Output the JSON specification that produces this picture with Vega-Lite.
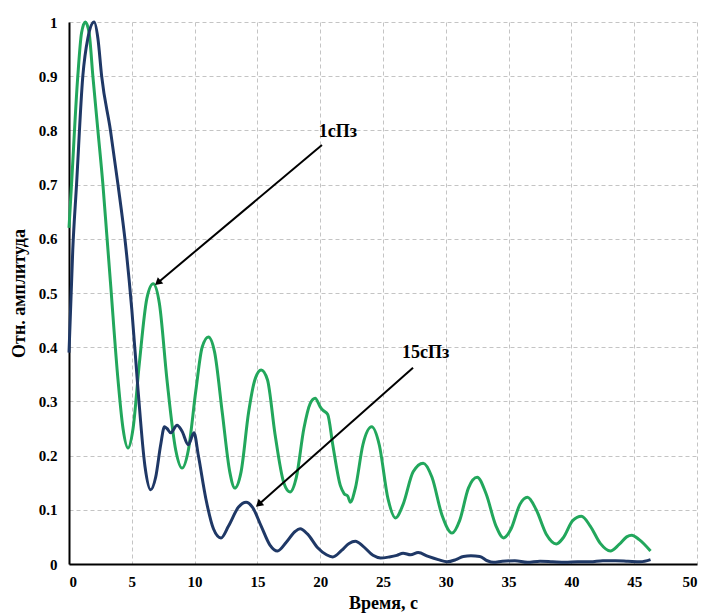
{
  "$schema": "https://vega.github.io/schema/vega-lite/v6.json",
  "width": 628,
  "height": 542,
  "autosize": {"type": "none"},
  "padding": {"left": 69, "top": 22, "right": 7, "bottom": 51},
  "background": "white",
  "config": {
    "view": {"stroke": null},
    "font": "Liberation Serif",
    "axis": {
      "grid": true,
      "gridColor": "#c4c4c4",
      "gridDash": [4, 3],
      "gridWidth": 1,
      "domainColor": "#000000",
      "domainWidth": 2,
      "ticks": false,
      "labelFont": "Liberation Serif",
      "labelFontWeight": "bold",
      "labelFontSize": 15,
      "labelColor": "#000000",
      "titleFont": "Liberation Serif",
      "titleFontWeight": "bold",
      "titleFontSize": 18,
      "titleColor": "#000000"
    }
  },
  "datasets": {
    "curves": [
      {"series": "1сПз", "t": 0, "v": 0.62},
      {"series": "1сПз", "t": 0.2, "v": 0.7},
      {"series": "1сПз", "t": 0.7, "v": 0.9},
      {"series": "1сПз", "t": 1.0, "v": 0.98},
      {"series": "1сПз", "t": 1.3, "v": 1.0},
      {"series": "1сПз", "t": 1.6, "v": 0.98},
      {"series": "1сПз", "t": 1.9, "v": 0.9},
      {"series": "1сПз", "t": 2.3, "v": 0.8},
      {"series": "1сПз", "t": 2.7, "v": 0.7},
      {"series": "1сПз", "t": 3.0, "v": 0.61},
      {"series": "1сПз", "t": 3.3, "v": 0.52},
      {"series": "1сПз", "t": 3.9, "v": 0.34},
      {"series": "1сПз", "t": 4.3, "v": 0.25},
      {"series": "1сПз", "t": 4.7, "v": 0.214},
      {"series": "1сПз", "t": 5.1, "v": 0.25},
      {"series": "1сПз", "t": 5.6, "v": 0.37},
      {"series": "1сПз", "t": 6.2, "v": 0.49},
      {"series": "1сПз", "t": 6.7, "v": 0.517},
      {"series": "1сПз", "t": 7.2, "v": 0.48},
      {"series": "1сПз", "t": 7.8, "v": 0.34},
      {"series": "1сПз", "t": 8.5, "v": 0.21},
      {"series": "1сПз", "t": 9.0, "v": 0.177},
      {"series": "1сПз", "t": 9.5, "v": 0.21},
      {"series": "1сПз", "t": 10.1, "v": 0.32},
      {"series": "1сПз", "t": 10.6, "v": 0.4},
      {"series": "1сПз", "t": 11.1, "v": 0.419},
      {"series": "1сПз", "t": 11.6, "v": 0.39},
      {"series": "1сПз", "t": 12.2, "v": 0.28},
      {"series": "1сПз", "t": 12.8, "v": 0.17},
      {"series": "1сПз", "t": 13.2, "v": 0.14},
      {"series": "1сПз", "t": 13.7, "v": 0.17},
      {"series": "1сПз", "t": 14.3, "v": 0.28},
      {"series": "1сПз", "t": 14.8, "v": 0.34},
      {"series": "1сПз", "t": 15.3, "v": 0.358},
      {"series": "1сПз", "t": 15.8, "v": 0.34},
      {"series": "1сПз", "t": 16.4, "v": 0.24},
      {"series": "1сПз", "t": 17.1, "v": 0.15},
      {"series": "1сПз", "t": 17.6, "v": 0.133},
      {"series": "1сПз", "t": 18.1, "v": 0.16},
      {"series": "1сПз", "t": 18.7, "v": 0.25},
      {"series": "1сПз", "t": 19.2, "v": 0.296},
      {"series": "1сПз", "t": 19.6, "v": 0.306},
      {"series": "1сПз", "t": 20.0, "v": 0.29},
      {"series": "1сПз", "t": 20.2, "v": 0.284},
      {"series": "1сПз", "t": 20.6, "v": 0.276},
      {"series": "1сПз", "t": 21.0, "v": 0.22},
      {"series": "1сПз", "t": 21.6, "v": 0.145},
      {"series": "1сПз", "t": 21.9, "v": 0.13},
      {"series": "1сПз", "t": 22.2, "v": 0.125},
      {"series": "1сПз", "t": 22.4, "v": 0.114},
      {"series": "1сПз", "t": 22.8, "v": 0.14},
      {"series": "1сПз", "t": 23.4, "v": 0.22},
      {"series": "1сПз", "t": 24.1, "v": 0.253},
      {"series": "1сПз", "t": 24.7, "v": 0.22},
      {"series": "1сПз", "t": 25.4, "v": 0.12},
      {"series": "1сПз", "t": 26.0, "v": 0.085},
      {"series": "1сПз", "t": 26.6, "v": 0.11},
      {"series": "1сПз", "t": 27.4, "v": 0.17},
      {"series": "1сПз", "t": 28.2, "v": 0.186},
      {"series": "1сПз", "t": 28.9, "v": 0.16},
      {"series": "1сПз", "t": 29.7, "v": 0.09},
      {"series": "1сПз", "t": 30.5, "v": 0.057},
      {"series": "1сПз", "t": 31.1, "v": 0.08},
      {"series": "1сПз", "t": 31.8, "v": 0.14},
      {"series": "1сПз", "t": 32.5, "v": 0.16},
      {"series": "1сПз", "t": 33.2, "v": 0.13},
      {"series": "1сПз", "t": 34.0, "v": 0.07},
      {"series": "1сПз", "t": 34.6, "v": 0.048},
      {"series": "1сПз", "t": 35.2, "v": 0.065},
      {"series": "1сПз", "t": 35.9, "v": 0.11},
      {"series": "1сПз", "t": 36.5, "v": 0.123},
      {"series": "1сПз", "t": 37.2, "v": 0.1},
      {"series": "1сПз", "t": 38.0, "v": 0.055},
      {"series": "1сПз", "t": 38.8, "v": 0.037},
      {"series": "1сПз", "t": 39.4, "v": 0.05},
      {"series": "1сПз", "t": 40.1, "v": 0.08},
      {"series": "1сПз", "t": 40.8, "v": 0.088},
      {"series": "1сПз", "t": 41.5, "v": 0.07},
      {"series": "1сПз", "t": 42.3, "v": 0.038},
      {"series": "1сПз", "t": 43.1, "v": 0.024},
      {"series": "1сПз", "t": 43.8, "v": 0.036},
      {"series": "1сПз", "t": 44.4, "v": 0.05},
      {"series": "1сПз", "t": 44.8, "v": 0.053},
      {"series": "1сПз", "t": 45.4, "v": 0.045},
      {"series": "1сПз", "t": 46.3, "v": 0.024},
      {"series": "15сПз", "t": 0, "v": 0.39},
      {"series": "15сПз", "t": 0.3, "v": 0.58},
      {"series": "15сПз", "t": 0.6, "v": 0.7},
      {"series": "15сПз", "t": 1.1, "v": 0.9},
      {"series": "15сПз", "t": 1.5, "v": 0.97},
      {"series": "15сПз", "t": 2.0, "v": 1.0},
      {"series": "15сПз", "t": 2.3, "v": 0.97},
      {"series": "15сПз", "t": 2.6, "v": 0.9},
      {"series": "15сПз", "t": 3.3, "v": 0.8},
      {"series": "15сПз", "t": 3.9, "v": 0.7},
      {"series": "15сПз", "t": 4.5, "v": 0.59},
      {"series": "15сПз", "t": 5.0, "v": 0.47},
      {"series": "15сПз", "t": 5.5, "v": 0.32},
      {"series": "15сПз", "t": 6.05, "v": 0.18},
      {"series": "15сПз", "t": 6.5, "v": 0.137},
      {"series": "15сПз", "t": 6.9, "v": 0.16},
      {"series": "15сПз", "t": 7.3, "v": 0.22},
      {"series": "15сПз", "t": 7.6, "v": 0.253},
      {"series": "15сПз", "t": 7.8, "v": 0.25},
      {"series": "15сПз", "t": 8.1, "v": 0.242},
      {"series": "15сПз", "t": 8.6, "v": 0.256},
      {"series": "15сПз", "t": 9.0, "v": 0.245},
      {"series": "15сПз", "t": 9.5, "v": 0.22},
      {"series": "15сПз", "t": 9.95, "v": 0.242},
      {"series": "15сПз", "t": 10.3, "v": 0.2},
      {"series": "15сПз", "t": 10.9, "v": 0.12},
      {"series": "15сПз", "t": 11.5, "v": 0.065},
      {"series": "15сПз", "t": 12.1, "v": 0.048},
      {"series": "15сПз", "t": 12.7, "v": 0.07},
      {"series": "15сПз", "t": 13.5, "v": 0.105},
      {"series": "15сПз", "t": 14.1, "v": 0.114},
      {"series": "15сПз", "t": 14.6, "v": 0.105},
      {"series": "15сПз", "t": 15.3, "v": 0.07},
      {"series": "15сПз", "t": 16.0, "v": 0.035},
      {"series": "15сПз", "t": 16.6, "v": 0.024},
      {"series": "15сПз", "t": 17.3, "v": 0.04},
      {"series": "15сПз", "t": 18.0, "v": 0.06},
      {"series": "15сПз", "t": 18.4, "v": 0.065},
      {"series": "15сПз", "t": 19.0, "v": 0.055},
      {"series": "15сПз", "t": 19.8, "v": 0.03},
      {"series": "15сПз", "t": 20.5, "v": 0.017},
      {"series": "15сПз", "t": 21.0, "v": 0.013},
      {"series": "15сПз", "t": 21.7, "v": 0.025},
      {"series": "15сПз", "t": 22.3, "v": 0.038},
      {"series": "15сПз", "t": 22.8, "v": 0.042},
      {"series": "15сПз", "t": 23.4, "v": 0.033},
      {"series": "15сПз", "t": 24.2, "v": 0.016},
      {"series": "15сПз", "t": 24.8, "v": 0.011},
      {"series": "15сПз", "t": 25.5, "v": 0.013},
      {"series": "15сПз", "t": 26.1, "v": 0.016},
      {"series": "15сПз", "t": 26.6, "v": 0.02},
      {"series": "15сПз", "t": 27.2, "v": 0.017},
      {"series": "15сПз", "t": 27.8, "v": 0.021},
      {"series": "15сПз", "t": 28.6, "v": 0.014},
      {"series": "15сПз", "t": 29.4, "v": 0.008},
      {"series": "15сПз", "t": 30.1, "v": 0.004},
      {"series": "15сПз", "t": 30.8, "v": 0.008},
      {"series": "15сПз", "t": 31.4, "v": 0.014},
      {"series": "15сПз", "t": 32.0, "v": 0.015},
      {"series": "15сПз", "t": 32.7, "v": 0.014},
      {"series": "15сПз", "t": 33.3, "v": 0.006},
      {"series": "15сПз", "t": 33.8, "v": 0.003},
      {"series": "15сПз", "t": 34.5, "v": 0.005},
      {"series": "15сПз", "t": 35.5, "v": 0.006},
      {"series": "15сПз", "t": 36.5, "v": 0.003},
      {"series": "15сПз", "t": 37.5, "v": 0.005},
      {"series": "15сПз", "t": 38.5, "v": 0.004},
      {"series": "15сПз", "t": 39.5, "v": 0.003},
      {"series": "15сПз", "t": 40.5, "v": 0.004},
      {"series": "15сПз", "t": 41.5, "v": 0.004},
      {"series": "15сПз", "t": 42.5, "v": 0.006},
      {"series": "15сПз", "t": 43.5, "v": 0.006},
      {"series": "15сПз", "t": 44.5, "v": 0.005},
      {"series": "15сПз", "t": 45.5, "v": 0.004},
      {"series": "15сПз", "t": 46.3, "v": 0.008}
    ],
    "arrows": [
      {"label": "1сПз", "t0": 20.14, "v0": 0.773, "t1": 7.07, "v1": 0.519},
      {"label": "15сПз", "t0": 27.39, "v0": 0.362, "t1": 15.1, "v1": 0.11}
    ],
    "labels": [
      {"label": "1сПз", "t": 21.4, "v": 0.797},
      {"label": "15сПз", "t": 28.4, "v": 0.389}
    ]
  },
  "layer": [
    {
      "data": {"name": "curves"},
      "mark": {"type": "line", "interpolate": "monotone", "strokeWidth": 3},
      "encoding": {
        "x": {
          "field": "t",
          "type": "quantitative",
          "scale": {"domain": [0, 50], "nice": false},
          "axis": {
            "title": "Время, с",
            "values": [0, 5, 10, 15, 20, 25, 30, 35, 40, 45, 50],
            "labelPadding": 10,
            "titlePadding": 5
          }
        },
        "y": {
          "field": "v",
          "type": "quantitative",
          "scale": {"domain": [0, 1], "nice": false},
          "axis": {
            "title": "Отн. амплитуда",
            "values": [0, 0.1, 0.2, 0.3, 0.4, 0.5, 0.6, 0.7, 0.8, 0.9, 1],
            "format": "~g",
            "labelPadding": 12,
            "titlePadding": 10
          }
        },
        "color": {
          "field": "series",
          "type": "nominal",
          "scale": {"domain": ["1сПз", "15сПз"], "range": ["#22a75c", "#1f3866"]},
          "legend": null
        }
      }
    },
    {
      "data": {"name": "arrows"},
      "mark": {"type": "rule", "color": "#000000", "strokeWidth": 2},
      "encoding": {
        "x": {"field": "t0", "type": "quantitative"},
        "y": {"field": "v0", "type": "quantitative"},
        "x2": {"field": "t1"},
        "y2": {"field": "v1"}
      }
    },
    {
      "data": {"name": "arrows"},
      "mark": {"type": "point", "shape": "triangle-up", "filled": true, "color": "#000000", "size": 70, "angle": 229, "opacity": 1},
      "encoding": {
        "x": {"field": "t1", "type": "quantitative"},
        "y": {"field": "v1", "type": "quantitative"}
      }
    },
    {
      "data": {"name": "labels"},
      "mark": {"type": "text", "font": "Liberation Serif", "fontWeight": "bold", "fontSize": 18, "color": "#000000", "align": "center", "baseline": "middle"},
      "encoding": {
        "x": {"field": "t", "type": "quantitative"},
        "y": {"field": "v", "type": "quantitative"},
        "text": {"field": "label"}
      }
    }
  ]
}
